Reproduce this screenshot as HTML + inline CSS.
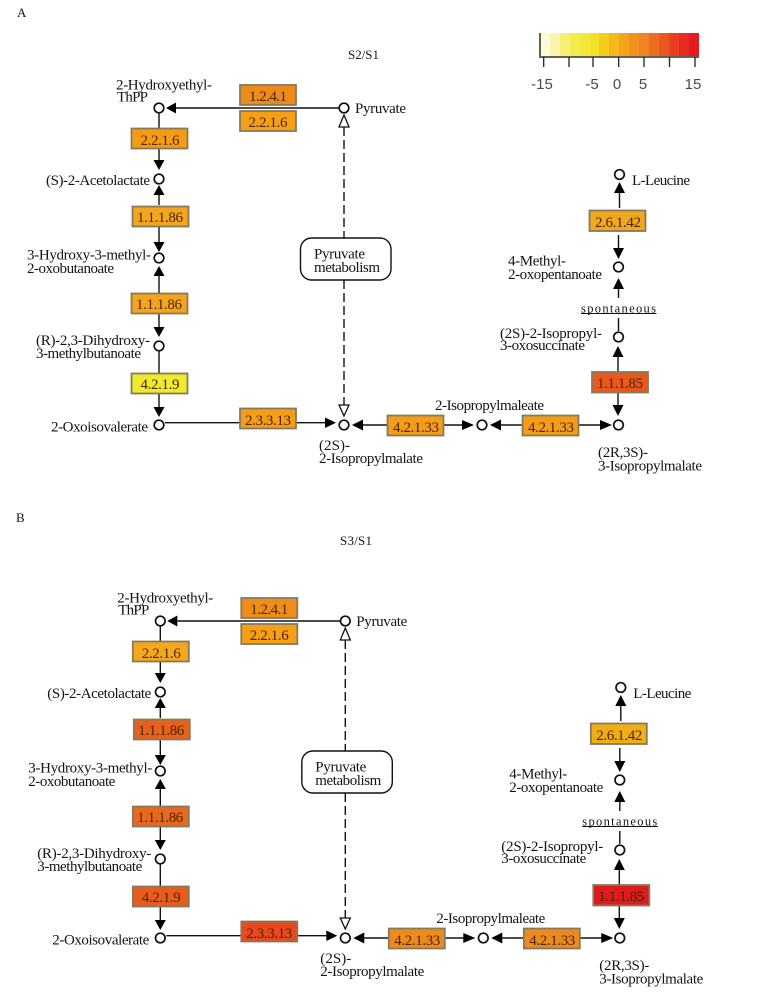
<!DOCTYPE html>
<html><head><meta charset="utf-8"><style>
html,body{margin:0;padding:0;background:#fff}
svg{display:block}
text{font-family:"Liberation Serif",serif;font-size:15px;fill:#141414}
text.t{font-size:13px}
text.s{font-size:12.500px}
.b text{font-size:15px;fill:#4a2606;text-anchor:middle}
text.l{font-family:"Liberation Sans",sans-serif;font-size:15px;fill:#4a4a4a;text-anchor:middle}
.bx{stroke:#857a5e;stroke-width:1.800}
</style></head><body>
<svg width="769" height="998" viewBox="0 0 769 998" xmlns="http://www.w3.org/2000/svg">
<defs><g id="g">
<g fill="none" stroke="#111" stroke-width="1.400">
<path d="M339 108H176M159 113V128M159 149V161M159 195V205M159 227V243M159 276V293M159 314V328M159 351V373M159 394V408M165 422.700H326M363 425H388M444 425H463M501 425H523M579 425H601M618 357V372M618 393V406M618.500 318V331M618.500 289V298M619.500 193V208M618.500 235V249"/>
<path d="M344 127V238M344 280V405" stroke-dasharray="9 4"/>
<rect x="300.500" y="238" width="90.500" height="42" rx="11" fill="#fff"/>
<g fill="#fff" stroke="#111" stroke-width="1.700">
<circle cx="159" cy="108" r="4.800"/><circle cx="344" cy="108" r="4.800"/><circle cx="159" cy="179" r="4.800"/><circle cx="159" cy="258" r="4.800"/><circle cx="159" cy="346" r="4.800"/><circle cx="159" cy="425" r="4.800"/><circle cx="344" cy="425" r="4.800"/><circle cx="482" cy="425" r="4.800"/><circle cx="618.500" cy="425" r="4.800"/><circle cx="618.500" cy="337" r="4.800"/><circle cx="618.500" cy="267" r="4.800"/><circle cx="619.500" cy="174.500" r="4.800"/>
</g>
<path d="M344 115L349 127H339ZM344 416L349 405H339Z" fill="#fff" stroke="#111" stroke-width="1.300"/>
</g>
<g fill="#000">
<path d="M166 108L176 102.500V113.500ZM159 170L153.500 160H164.500ZM159 185L153.500 195H164.500ZM159 252L153.500 242H164.500ZM159 266L153.500 276H164.500ZM159 337L153.500 327H164.500ZM159 417L153.500 407H164.500ZM336 422.700L325 417.500V428ZM352 425L363 419.500V430.500ZM474 425L462 420V430ZM490 425L501 419.500V430.500ZM612 425L600 420V430ZM618 346L612.500 357H623.500ZM618 416L612.500 405H623.500ZM618.500 278L613 289H624ZM619.500 182L614 193H625ZM618.500 259L613 248H624Z"/>
</g>
<path d="M581 313.500H656.500" stroke="#111" stroke-width="1" fill="none"/>
</g></defs>

<text class="t" x="17" y="17" textLength="9">A</text>
<text class="t" x="348" y="59" textLength="31">S2/S1</text>
<text class="t" x="16" y="522" textLength="9">B</text>
<text class="t" x="340" y="545" textLength="32">S3/S1</text>

<!-- legend -->
<g shape-rendering="crispEdges">
<rect x="540" y="33" width="10" height="24" fill="#fdfbd6"/>
<rect x="550" y="33" width="10" height="24" fill="#faf5ad"/>
<rect x="560" y="33" width="10" height="24" fill="#f6ef74"/>
<rect x="570" y="33" width="10" height="24" fill="#f3ec50"/>
<rect x="580" y="33" width="10" height="24" fill="#f1e93a"/>
<rect x="590" y="33" width="9" height="24" fill="#f3e02a"/>
<rect x="599" y="33" width="10" height="24" fill="#f5cc1c"/>
<rect x="609" y="33" width="10" height="24" fill="#f4b81c"/>
<rect x="619" y="33" width="10" height="24" fill="#f4a418"/>
<rect x="629" y="33" width="10" height="24" fill="#f39020"/>
<rect x="639" y="33" width="10" height="24" fill="#f18424"/>
<rect x="649" y="33" width="10" height="24" fill="#ee6e20"/>
<rect x="659" y="33" width="10" height="24" fill="#ec5620"/>
<rect x="669" y="33" width="10" height="24" fill="#e93e22"/>
<rect x="679" y="33" width="10" height="24" fill="#e72a22"/>
<rect x="689" y="33" width="10" height="24" fill="#e61a20"/>
</g>
<path d="M540 33V57H699" fill="none" stroke="#66604e" stroke-width="2"/>
<path d="M543.700 57V67M569 57V67M593 57V67M618.700 57V67M644 57V67M669.500 57V67M695 57V67" stroke="#222" stroke-width="1.300"/>
<text class="l" x="542" y="89">-15</text>
<text class="l" x="592" y="89">-5</text>
<text class="l" x="617" y="89">0</text>
<text class="l" x="643" y="89">5</text>
<text class="l" x="693" y="89">15</text>

<!-- Panel A -->
<g>
<use href="#g"/>
<g class="bx">
<rect x="240" y="85" width="56" height="20" fill="#ee8a1a"/>
<rect x="240" y="111" width="56" height="20" fill="#f5a014"/>
<rect x="131.500" y="128.500" width="56" height="20" fill="#f59c14"/>
<rect x="132.500" y="206.500" width="56" height="20" fill="#f2a61e"/>
<rect x="131.500" y="293.500" width="56" height="20" fill="#f5a41c"/>
<rect x="131.500" y="373.500" width="56" height="20" fill="#eeea2e"/>
<rect x="240" y="408.500" width="56" height="20" fill="#f59c18"/>
<rect x="387.500" y="415.500" width="56" height="20" fill="#f59c18"/>
<rect x="522.500" y="415.500" width="56" height="20" fill="#f59c18"/>
<rect x="592" y="372" width="56" height="20.500" fill="#e8581c"/>
<rect x="589.500" y="210.500" width="56" height="20.500" fill="#f2a81c"/>
</g>
<g class="b">
<text x="268" y="101" textLength="38">1.2.4.1</text>
<text x="268" y="127" textLength="39">2.2.1.6</text>
<text x="160" y="145" textLength="39">2.2.1.6</text>
<text x="160" y="222" textLength="46">1.1.1.86</text>
<text x="159" y="309" textLength="46">1.1.1.86</text>
<text x="160" y="389" textLength="39">4.2.1.9</text>
<text x="268" y="425" textLength="46">2.3.3.13</text>
<text x="416" y="432" textLength="46">4.2.1.33</text>
<text x="551" y="432" textLength="46">4.2.1.33</text>
<text x="620" y="388" textLength="46">1.1.1.85</text>
<text x="618" y="227" textLength="46">2.6.1.42</text>
</g>
<text x="116" y="89.500" textLength="96">2-Hydroxyethyl-</text>
<text x="117" y="101.500" textLength="31">ThPP</text>
<text x="355" y="113" textLength="51">Pyruvate</text>
<text x="46" y="185" textLength="104">(S)-2-Acetolactate</text>
<text x="27" y="259.500" textLength="124">3-Hydroxy-3-methyl-</text>
<text x="27" y="273" textLength="87">2-oxobutanoate</text>
<text x="36" y="345" textLength="114">(R)-2,3-Dihydroxy-</text>
<text x="36" y="358" textLength="105">3-methylbutanoate</text>
<text x="51" y="431.500" textLength="97">2-Oxoisovalerate</text>
<text x="319" y="450" textLength="31">(2S)-</text>
<text x="319" y="463" textLength="104">2-Isopropylmalate</text>
<text x="435" y="410" textLength="109">2-Isopropylmaleate</text>
<text x="598" y="457" textLength="50">(2R,3S)-</text>
<text x="598" y="470.500" textLength="104">3-Isopropylmalate</text>
<text x="500" y="338" textLength="102">(2S)-2-Isopropyl-</text>
<text x="500" y="350" textLength="85">3-oxosuccinate</text>
<text class="s" x="581" y="312.500" textLength="75">spontaneous</text>
<text x="508" y="265.500" textLength="58">4-Methyl-</text>
<text x="508" y="279" textLength="94">2-oxopentanoate</text>
<text x="632" y="185" textLength="58">L-Leucine</text>
<text x="314" y="258.500" textLength="51">Pyruvate</text>
<text x="314" y="272" textLength="66">metabolism</text>
</g>

<!-- Panel B -->
<g transform="translate(1.300 513)">
<use href="#g"/>
<g class="bx">
<rect x="240" y="85" width="56" height="20" fill="#f08c18"/>
<rect x="240" y="111" width="56" height="20" fill="#f5a014"/>
<rect x="131.500" y="128.500" width="56" height="20" fill="#f5a81e"/>
<rect x="132.500" y="206.500" width="56" height="20" fill="#e8601c"/>
<rect x="131.500" y="293.500" width="56" height="20" fill="#e8681e"/>
<rect x="131.500" y="373.500" width="56" height="20" fill="#e85c1c"/>
<rect x="240" y="408.500" width="56" height="20" fill="#e8481c"/>
<rect x="387.500" y="415.500" width="56" height="20" fill="#ee8a1c"/>
<rect x="522.500" y="415.500" width="56" height="20" fill="#ee8820"/>
<rect x="592" y="372" width="56" height="20.500" fill="#de1a1e"/>
<rect x="589.500" y="210.500" width="56" height="20.500" fill="#f0ae14"/>
</g>
<g class="b">
<text x="268" y="101" textLength="38">1.2.4.1</text>
<text x="268" y="127" textLength="39">2.2.1.6</text>
<text x="160" y="145" textLength="39">2.2.1.6</text>
<text x="160" y="222" textLength="46">1.1.1.86</text>
<text x="159" y="309" textLength="46">1.1.1.86</text>
<text x="160" y="389" textLength="39">4.2.1.9</text>
<text x="268" y="425" textLength="46">2.3.3.13</text>
<text x="416" y="432" textLength="46">4.2.1.33</text>
<text x="551" y="432" textLength="46">4.2.1.33</text>
<text x="620" y="388" textLength="46">1.1.1.85</text>
<text x="618" y="227" textLength="46">2.6.1.42</text>
</g>
<text x="116" y="89.500" textLength="96">2-Hydroxyethyl-</text>
<text x="117" y="101.500" textLength="31">ThPP</text>
<text x="355" y="113" textLength="51">Pyruvate</text>
<text x="46" y="185" textLength="104">(S)-2-Acetolactate</text>
<text x="27" y="259.500" textLength="124">3-Hydroxy-3-methyl-</text>
<text x="27" y="273" textLength="87">2-oxobutanoate</text>
<text x="36" y="345" textLength="114">(R)-2,3-Dihydroxy-</text>
<text x="36" y="358" textLength="105">3-methylbutanoate</text>
<text x="51" y="431.500" textLength="97">2-Oxoisovalerate</text>
<text x="319" y="450" textLength="31">(2S)-</text>
<text x="319" y="463" textLength="104">2-Isopropylmalate</text>
<text x="435" y="410" textLength="109">2-Isopropylmaleate</text>
<text x="598" y="457" textLength="50">(2R,3S)-</text>
<text x="598" y="470.500" textLength="104">3-Isopropylmalate</text>
<text x="500" y="338" textLength="102">(2S)-2-Isopropyl-</text>
<text x="500" y="350" textLength="85">3-oxosuccinate</text>
<text class="s" x="581" y="312.500" textLength="75">spontaneous</text>
<text x="508" y="265.500" textLength="58">4-Methyl-</text>
<text x="508" y="279" textLength="94">2-oxopentanoate</text>
<text x="632" y="185" textLength="58">L-Leucine</text>
<text x="314" y="258.500" textLength="51">Pyruvate</text>
<text x="314" y="272" textLength="66">metabolism</text>
</g>
</svg>
</body></html>
